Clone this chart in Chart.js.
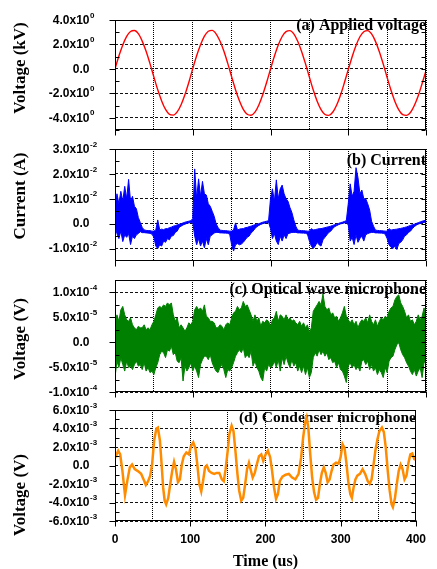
<!DOCTYPE html>
<html><head><meta charset="utf-8">
<script src="https://cdn.jsdelivr.net/npm/chart.js@4"></script>
<style>
html,body{margin:0;padding:0;background:#fff;width:437px;height:569px;overflow:hidden}
canvas{position:absolute;left:0}
</style></head><body>
<canvas id="ca" width="437" height="140" style="top:0px"></canvas>
<canvas id="cb" width="437" height="130" style="top:140px"></canvas>
<canvas id="cc" width="437" height="130" style="top:270px"></canvas>
<canvas id="cd" width="437" height="169" style="top:400px"></canvas>
<script>
// ---------- shared x axis (time, us) ----------
const xGridTicks = [0, 50, 100, 150, 200, 250, 300, 350, 400];
const xLabelTicks = [0, 100, 200, 300, 400];

// ---------- (a) Applied voltage, kV, sampled every 5 us ----------
const aTime = Array.from({length: 81}, (_, i) => i * 5);
const aVoltage = [
  0.0,1.05,1.96,2.66,3.06,3.14,2.88,2.27,1.44,0.43,-0.66,-1.71,-2.62,-3.32,-3.72,-3.78,-3.52,-2.93,-2.10,-1.09,
  0.02,1.07,1.98,2.68,3.08,3.15,2.87,2.28,1.46,0.45,-0.64,-1.70,-2.61,-3.31,-3.71,-3.79,-3.54,-2.95,-2.12,-1.11,
  -0.02,1.03,1.95,2.65,3.05,3.13,2.86,2.26,1.43,0.42,-0.67,-1.73,-2.64,-3.33,-3.73,-3.80,-3.55,-2.97,-2.15,-1.14,
  -0.06,1.00,1.92,2.63,3.04,3.13,2.86,2.25,1.41,0.40,-0.70,-1.75,-2.66,-3.35,-3.74,-3.80,-3.57,-3.00,-2.20,-1.20,
  -0.15
];
const aTicks = [-4, -2, 0, 2, 4];
const aTickLabels = [['-4.0x10','0'],['-2.0x10','0'],['0.0',''],['2.0x10','0'],['4.0x10','0']];
const aMinor = [-5, -3, -1, 1, 3];

// ---------- (b) Current, x1e-2 A: upper / lower envelope every 2.5 us ----------
const bcTime = Array.from({length: 161}, (_, i) => i * 2.5);
const bUpper = [
  0.6,1.2,0.8,1.3,0.9,1.5,1.0,1.78,0.9,1.1,0.7,0.6,0.25,0.05, -0.15,-0.25,-0.27,-0.28,-0.28,-0.3,
  -0.3,-0.25,0.15,-0.25,-0.22,-0.24,-0.2,-0.2,-0.16,-0.14,-0.1,-0.08,-0.05,-0.02,0.0,0.03,0.06,0.08,0.1,0.12,
  0.2,2.2,1.0,1.8,1.1,1.7,1.2,1.15,0.8,0.7,0.5,0.3,0.0,-0.15, -0.26,-0.27,-0.28,-0.28,-0.29,-0.3,
  -0.3,-0.25,0.03,-0.25,-0.22,-0.2,-0.2,-0.16,-0.15,-0.12,-0.1,-0.07,-0.04,-0.02,0.0,0.03,0.06,0.08,0.1,0.12,
  1.0,1.4,0.9,1.76,1.0,1.4,1.55,1.2,1.0,0.9,0.65,0.45,0.15,-0.1, -0.26,-0.27,-0.28,-0.28,-0.29,-0.3,
  -0.3,-0.2,-0.25,-0.24,-0.22,-0.2,-0.2,-0.18,-0.16,-0.14,-0.12,-0.1,-0.07,-0.04,-0.02,0.01,0.04,0.06,0.09,0.12,
  0.8,1.6,1.1,1.3,2.25,1.85,1.2,1.35,1.0,1.0,0.8,0.55,0.1,-0.1, -0.26,-0.27,-0.28,-0.28,-0.29,-0.3,
  -0.3,-0.2,-0.26,-0.24,-0.23,-0.22,-0.2,-0.19,-0.17,-0.15,-0.13,-0.1,-0.07,-0.04,-0.02,0.01,0.04,0.07,0.1,0.12,
  0.15
];
const bLower = [
  -0.1,-0.4,-0.6,-0.3,-0.72,-0.45,-0.55,-0.4,-0.84,-0.5,-0.6,-0.45,-0.4,-0.32, -0.36,-0.36,-0.37,-0.38,-0.39,-0.42,
  -0.55,-0.9,-1.0,-0.85,-0.9,-0.7,-0.75,-0.6,-0.65,-0.5,-0.48,-0.35,-0.3,-0.15,-0.1,-0.05,-0.02,0.01,0.03,0.05,
  0.05,-0.5,-0.85,-0.6,-0.9,-0.7,-0.97,-0.6,-0.85,-0.5,-0.45,-0.38,-0.35,-0.35, -0.37,-0.37,-0.38,-0.38,-0.39,-0.42,
  -0.85,-1.1,-0.85,-0.8,-0.85,-0.82,-0.75,-0.65,-0.55,-0.5,-0.38,-0.3,-0.2,-0.12,-0.07,-0.03,0.0,0.02,0.04,0.06,
  -0.2,-0.6,-0.4,-0.7,-0.84,-0.5,-0.7,-0.45,-0.6,-0.4,-0.38,-0.35,-0.35,-0.35, -0.37,-0.37,-0.38,-0.38,-0.39,-0.42,
  -0.7,-0.9,-1.0,-0.9,-0.75,-0.85,-0.9,-0.65,-0.55,-0.45,-0.35,-0.3,-0.2,-0.12,-0.08,-0.04,-0.01,0.01,0.03,0.04,
  -0.05,-0.7,-0.55,-0.84,-0.45,-0.75,-0.6,-0.5,-0.7,-0.45,-0.4,-0.37,-0.35,-0.35, -0.37,-0.37,-0.38,-0.38,-0.39,-0.42,
  -0.6,-0.85,-0.95,-1.0,-0.9,-1.04,-0.8,-0.75,-0.65,-0.5,-0.45,-0.35,-0.3,-0.2,-0.12,-0.06,-0.02,0.01,0.03,0.05,
  0.07
];
const bTicks = [-1, 0, 1, 2, 3];
const bTickLabels = [['-1.0x10','-2'],['0.0',''],['1.0x10','-2'],['2.0x10','-2'],['3.0x10','-2']];
const bMinor = [-0.5, 0.5, 1.5, 2.5];

// ---------- (c) Optical wave microphone, x1e-5 V: upper / lower envelope ----------
const cUpper = [
  3.5,5.5,4.2,6.5,7.2,5.5,4.5,4.2,4.9,3.5, 2.9,2.5,3.2,2.9,2.9,3.5,2.5,2.9,2.5,3.5,
  4.2,5.5,6.9,7.2,6.9,7.5,7.2,7.9,7.5,7.9, 5.5,4.2,4.9,2.9,3.5,2.9,2.2,2.9,3.9,3.5,
  4.2,6.5,7.2,6.5,6.9,6.2,7.5,5.2,4.9,4.2, 4.2,3.9,2.9,2.9,3.5,3.2,2.5,3.5,3.9,3.5,
  4.9,5.9,6.2,7.2,6.5,6.9,8.2,7.2,7.5,6.5, 5.5,4.2,5.5,4.2,4.9,3.2,4.2,3.9,4.5,4.2,
  3.2,
  4.5,4.9,6.2,4.2,5.5,5.2,4.5,5.5,4.5, 4.9,4.2,4.5,3.9,3.5,4.2,3.2,3.9,2.9,3.5,
  1.9,2.9,6.2,6.9,7.5,8.2,7.5,9.7,7.2,6.5, 6.9,5.5,5.9,4.9,5.2,4.2,4.9,5.9,7.2,5.2,
  4.5,3.9,4.5,3.5,4.2,2.9,3.9,4.5,4.2,4.9, 3.9,5.5,4.2,3.5,4.5,3.2,4.2,4.9,4.5,5.2,
  4.9,6.2,6.9,7.2,8.5,9.2,9.5,7.9,7.2,6.2, 4.9,5.5,4.2,4.5,3.5,4.2,5.5,4.5,5.2,6.9,4.9
];
const cLower = [
  -7.1,-3.8,-5.1,-3.1,-4.5,-5.8,-3.8,-5.1,-4.8,-5.5, -4.5,-3.8,-4.8,-4.5,-5.5,-4.1,-5.8,-5.1,-6.1,-5.8,
  -6.5,-5.1,-4.1,-2.5,-1.8,-2.1,-3.1,-1.5,-1.8,-0.8, -2.5,-2.1,-3.8,-4.1,-3.1,-7.8,-4.8,-5.8,-5.1,-4.1,
  -5.8,-4.8,-5.8,-7.1,-4.5,-3.5,-2.8,-2.8,-3.5,-2.5, -4.1,-5.1,-5.8,-6.1,-5.1,-4.5,-5.5,-7.1,-5.5,-5.8,
  -5.1,-4.1,-2.8,-2.1,-1.5,-2.1,-1.1,-3.1,-2.5,-3.1, -1.8,-4.8,-3.8,-5.1,-5.8,-7.1,-7.8,-5.1,-5.8,-4.5,
  -5.1,
  -4.8,-3.8,-5.1,-3.5,-5.8,-3.1,-4.5,-2.8,-4.1, -5.1,-3.5,-4.8,-4.1,-5.8,-4.8,-6.1,-4.8,-6.5,-5.1,
  -7.1,-6.1,-3.1,-2.1,-2.8,-1.5,-2.5,-1.8,-2.8,-2.1, -3.5,-3.1,-4.1,-3.8,-5.1,-4.1,-5.5,-5.8,-6.8,-8.1,
  -4.8,-4.1,-5.1,-4.5,-5.5,-4.8,-5.8,-3.8,-3.5,-4.5, -3.8,-5.5,-4.5,-5.8,-5.1,-6.5,-5.5,-6.1,-7.1,-5.1,
  -6.1,-3.8,-3.1,-2.8,-1.5,-0.5,-0.1,-1.5,-2.5,-3.1, -4.1,-4.8,-5.8,-6.5,-5.5,-6.8,-5.8,-5.1,-7.1,-4.1,-3.8
];
const cTicks = [-10, -5, 0, 5, 10];
const cTickLabels = [['-1.0x10','-4'],['-5.0x10','-5'],['0.0',''],['5.0x10','-5'],['1.0x10','-4']];
const cMinor = [-7.5, -2.5, 2.5, 7.5];

// ---------- (d) Condenser microphone, x1e-3 V ----------
const dTime = [
  0,2.6,4.3,6.9,9.9,13.3,16.7,19.7,22.7,26.2,30.4,34.7,39,41,44,46.8,49.3,52,55,57,
  59.7,61.8,64,66,68,70.8,73.4,76,78.5,81,83.7,86.3,88.8,91.4,94.8,98.2,101,104,107,109.4,
  112,114.6,117,119.7,122,125,128.4,131.8,135.2,138.6,142,144.6,147,149.8,152,155,157.5,160,162.7,165,
  167.8,170.4,173,175.5,178,180.7,183,185.8,188.4,191.4,194.4,197,200.2,203.2,206.2,208.8,211.4,214,216.5,219,
  222.5,226.8,231,235.4,239.7,244,247.4,250,252.6,254.7,256.9,259.5,262,264.6,267.2,269.8,272.3,274.9,277.5,280,
  282.6,285.2,287.8,290.4,293.8,297.2,299.8,302.4,305,307.5,310,312.7,314.8,317,319.5,322,325.5,329,332.4,335.9,
  338.4,341,343.6,346,348.7,351.3,354.7,357.3,359.9,362.5,365,367.6,369.3,371.9,374.5,377,379.6,382.2,384.8,387.4,
  390,392.5,395,397.7,400
];
const dVoltage = [
  0.8,1.3,1.6,1.2,-0.6,-3.2,-1.5,-0.2,0.1,-0.4,-0.6,-0.9,-1.7,-2.1,-1.7,-1.1,0.1,2.7,4.0,4.1,
  2.7,0.3,-2.4,-3.8,-4.2,-3.5,-2.0,-0.6,0.4,-0.4,-1.8,-1.5,0.1,1.0,1.4,1.2,2.1,2.5,1.8,0.1,
  -2.0,-2.8,-1.7,-0.2,0.0,-0.6,-0.8,-0.9,-0.8,-0.8,-1.5,-1.7,-0.4,1.6,3.4,4.3,3.7,1.6,-0.9,-2.7,
  -3.8,-3.5,-2.0,-0.4,0.3,-0.6,-1.3,-0.8,0.1,1.0,1.2,0.5,1.2,1.6,0.9,-0.6,-2.4,-3.6,-3.1,-1.7,
  -1.2,-1.0,-0.9,-1.3,-1.5,-0.9,0.9,3.0,4.6,5.2,4.1,1.2,-1.3,-2.9,-3.7,-3.5,-2.0,-0.8,-0.2,-0.8,
  -1.8,-1.5,-0.6,0.1,0.3,0.2,0.9,2.3,1.9,0.3,-1.7,-3.1,-3.5,-2.4,-1.5,-1.1,-0.9,-0.4,-0.9,-1.7,
  -2.0,-1.5,0.1,1.6,2.8,3.7,4.1,3.6,1.9,-0.6,-2.7,-4.2,-4.5,-3.6,-2.0,-0.6,0.1,-0.4,-1.5,-1.1,
  0.3,1.2,1.3,0.7,0.6
];
const dTicks = [-6, -4, -2, 0, 2, 4, 6];
const dTickLabels = [['-6.0x10','-3'],['-4.0x10','-3'],['-2.0x10','-3'],['0.0',''],['2.0x10','-3'],['4.0x10','-3'],['6.0x10','-3']];
const dMinor = [-5, -3, -1, 1, 3, 5];

// ---------- helpers ----------
const pts = (xs, ys) => xs.map((t, i) => ({x: t, y: ys[i]}));
const SANS = '"Liberation Sans", Arial, sans-serif';
const SERIF = '"Liberation Serif", "Times New Roman", serif';

function decoPlugin(p) {
  return {
    id: 'deco_' + p.id,
    beforeDatasetsDraw(chart) {
      const {ctx, chartArea: a} = chart;
      ctx.save();
      ctx.font = 'bold ' + p.titleSize + 'px ' + SERIF;
      ctx.fillStyle = '#000';
      ctx.textAlign = 'right';
      ctx.textBaseline = 'alphabetic';
      ctx.fillText(p.title, a.right, p.titleY - p.top);
      ctx.restore();
    },
    afterDraw(chart) {
      const {ctx, chartArea: a, scales: {x, y}} = chart;
      const L = Math.round(a.left) + 0.5, R = Math.round(a.right) - 0.5;
      const T = Math.round(a.top) + 0.5, B = Math.round(a.bottom) - 0.5;
      ctx.save();
      ctx.setLineDash([]);
      ctx.strokeStyle = '#000';
      ctx.lineWidth = 1;
      ctx.strokeRect(L, T, R - L, B - T);
      ctx.beginPath();
      p.ticks.forEach(v => {
        const yy = Math.round(y.getPixelForValue(v)) + 0.5;
        ctx.moveTo(L - 6, yy); ctx.lineTo(L, yy);
        ctx.moveTo(R - 4, yy); ctx.lineTo(R, yy);
      });
      p.minor.forEach(v => {
        const yy = Math.round(y.getPixelForValue(v)) + 0.5;
        ctx.moveTo(L, yy); ctx.lineTo(L + 4, yy);
        ctx.moveTo(R - 4, yy); ctx.lineTo(R, yy);
      });
      xLabelTicks.forEach(v => {
        const xx = Math.round(x.getPixelForValue(v)) + 0.5;
        ctx.moveTo(xx, B); ctx.lineTo(xx, B + 6);
      });
      ctx.stroke();
      // y tick labels with superscript exponents
      ctx.fillStyle = '#000';
      p.ticks.forEach((v, i) => {
        const yy = y.getPixelForValue(v);
        const [m, e] = p.labels[i];
        ctx.font = 'bold 12px ' + SANS;
        ctx.textAlign = 'right';
        ctx.textBaseline = 'middle';
        ctx.fillText(m, 89.5, yy + 0.5);
        if (e) {
          ctx.font = 'bold 8px ' + SANS;
          ctx.textAlign = 'left';
          ctx.fillText(e, 90, yy - 4.5);
        }
      });
      // y axis title
      ctx.save();
      ctx.translate(21, p.yTitleC - p.top);
      ctx.rotate(-Math.PI / 2);
      ctx.font = 'bold 17px ' + SERIF;
      ctx.textAlign = 'center';
      ctx.textBaseline = 'middle';
      ctx.fillText(p.yTitle, 0, 0);
      ctx.restore();
      if (p.bottom) {
        ctx.font = 'bold 16px ' + SERIF;
        ctx.textAlign = 'center';
        ctx.textBaseline = 'alphabetic';
        ctx.fillText('Time (us)', (a.left + a.right) / 2, 566 - p.top);
      }
      ctx.restore();
    }
  };
}

function build(p) {
  return new Chart(document.getElementById(p.id), {
    type: 'line',
    data: {datasets: p.datasets},
    options: {
      responsive: false, animation: false, devicePixelRatio: 1, events: [],
      layout: {autoPadding: false, padding: {top: p.padTop, left: 0, right: 11, bottom: 0}},
      plugins: {legend: {display: false}, tooltip: {enabled: false}},
      elements: {point: {radius: 0}, line: {tension: 0}},
      scales: {
        x: {
          type: 'linear', min: 0, max: 400,
          afterBuildTicks: s => { s.ticks = xGridTicks.map(v => ({value: v})); },
          afterFit: s => { s.height = p.xH; },
          grid: {color: '#000', lineWidth: 1, drawTicks: false},
          border: {display: false, dash: [1, 1]},
          ticks: {
            display: !!p.bottom, autoSkip: false, maxRotation: 0, padding: 11, color: '#000',
            font: {family: SANS, weight: 'bold', size: 12},
            callback: v => xLabelTicks.includes(v) ? String(v) : ''
          }
        },
        y: {
          type: 'linear', min: p.yMin, max: p.yMax,
          afterBuildTicks: s => { s.ticks = p.ticks.map(v => ({value: v})); },
          afterFit: s => { s.width = 115; },
          grid: {color: '#111', lineWidth: 1, drawTicks: false},
          border: {display: false, dash: [3, 2]},
          ticks: {display: false}
        }
      }
    },
    plugins: [decoPlugin(p)]
  });
}

build({
  id: 'ca', top: 0, padTop: 20, xH: 10, yMin: -5, yMax: 4,
  ticks: aTicks, labels: aTickLabels, minor: aMinor,
  title: '(a) Applied voltage', titleSize: 16, titleY: 30, yTitle: 'Voltage (kV)', yTitleC: 68,
  datasets: [{data: pts(aTime, aVoltage), borderColor: '#ff0000', borderWidth: 1.4, cubicInterpolationMode: 'monotone', fill: false}]
});
build({
  id: 'cb', top: 140, padTop: 9, xH: 9, yMin: -1.5, yMax: 3,
  ticks: bTicks, labels: bTickLabels, minor: bMinor,
  title: '(b) Current', titleSize: 16, titleY: 165, yTitle: 'Current (A)', yTitleC: 196,
  datasets: [
    {data: pts(bcTime, bUpper), borderColor: '#0000ff', borderWidth: 1, fill: false},
    {data: pts(bcTime, bLower), borderColor: '#0000ff', borderWidth: 1, backgroundColor: '#0000ff', fill: '-1'}
  ]
});
build({
  id: 'cc', top: 270, padTop: 10, xH: 8, yMin: -10, yMax: 12.5,
  ticks: cTicks, labels: cTickLabels, minor: cMinor,
  title: '(c) Optical wave microphone', titleSize: 16, titleY: 294, yTitle: 'Voltage (V)', yTitleC: 339,
  datasets: [
    {data: pts(bcTime, cUpper), borderColor: '#008000', borderWidth: 1, fill: false},
    {data: pts(bcTime, cLower), borderColor: '#008000', borderWidth: 1, backgroundColor: '#008000', fill: '-1'}
  ]
});
build({
  id: 'cd', top: 400, padTop: 10, xH: 48, yMin: -6, yMax: 6, bottom: true,
  ticks: dTicks, labels: dTickLabels, minor: dMinor,
  title: '(d) Condenser microphone', titleSize: 15.5, titleY: 422, yTitle: 'Voltage (V)', yTitleC: 495,
  datasets: [{data: pts(dTime, dVoltage), borderColor: '#ff8c00', borderWidth: 2.5, fill: false}]
});
</script>
</body></html>
